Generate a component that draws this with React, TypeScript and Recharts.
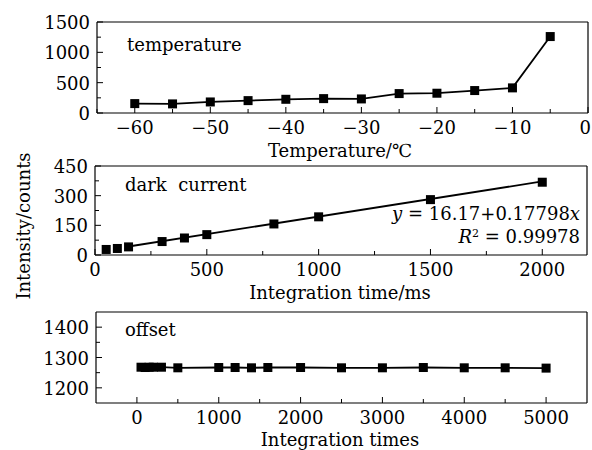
import { ComposedChart, Line, Scatter, XAxis, YAxis } from 'recharts';

// temperature panel
const tempX = [-60, -55, -50, -45, -40, -35, -30, -25, -20, -15, -10, -5];
const tempY = [155, 150, 182, 204, 226, 237, 232, 320, 326, 370, 414, 1260];
const tempXMajor = [-60, -50, -40, -30, -20, -10, 0];
const tempXTicks = [-65, -60, -55, -50, -45, -40, -35, -30, -25, -20, -15, -10, -5, 0];
const tempYMajor = [0, 500, 1000, 1500];
const tempYTicks = [0, 250, 500, 750, 1000, 1250, 1500];

// dark current panel
const darkX = [50, 100, 150, 300, 400, 500, 800, 1000, 1500, 2000];
const darkY = [28, 33, 41, 68, 86, 103, 157, 193, 280, 368];
const fitX = [150, 2000];
const fitY = [43, 372];
const darkXMajor = [0, 500, 1000, 1500, 2000];
const darkXTicks = [0, 250, 500, 750, 1000, 1250, 1500, 1750, 2000];
const darkYMajor = [0, 150, 300, 450];
const darkYTicks = [0, 75, 150, 225, 300, 375, 450];

// offset panel
const offX = [50, 100, 150, 200, 300, 500, 1000, 1200, 1400, 1600, 2000, 2500, 3000, 3500, 4000, 4500, 5000];
const offY = [1268, 1267, 1268, 1268, 1268, 1266, 1267, 1267, 1266, 1267, 1267, 1266, 1266, 1267, 1266, 1266, 1265];
const offXMajor = [0, 1000, 2000, 3000, 4000, 5000];
const offXTicks = [0, 500, 1000, 1500, 2000, 2500, 3000, 3500, 4000, 4500, 5000];
const offYMajor = [1200, 1300, 1400];
const offYTicks = [1200, 1250, 1300, 1350, 1400];

const FONT = '"DejaVu Serif", "Liberation Serif", serif';
const FS = 18;

const rows = (xs: number[], ys: number[]) => xs.map((x, i) => ({ x, y: ys[i] }));

const fmt = (v: number) => (v < 0 ? '\u2212' + Math.abs(v) : String(v));

const Square = (p: any) => {
  if (p.cx == null || p.cy == null) return <g key={p.key} />;
  return <rect key={p.key} x={p.cx - 4.5} y={p.cy - 4.5} width={9} height={9} fill="#000" />;
};

const bottomTick = (majors: number[]) => (p: any) => {
  const v = p.payload.value;
  const major = majors.includes(v);
  // keep the last label inside the picture
  const atEdge = p.x > 584;
  return (
    <g>
      <line x1={p.x} x2={p.x} y1={p.y} y2={p.y - (major ? 6 : 4)} stroke="#000" strokeWidth={1} />
      {major && (
        <text
          x={atEdge ? 591 : p.x}
          y={p.y + 21}
          textAnchor={atEdge ? 'end' : 'middle'}
          fontFamily={FONT}
          fontSize={FS}
          fill="#000"
        >
          {fmt(v)}
        </text>
      )}
    </g>
  );
};

const topTick = (majors: number[]) => (p: any) => {
  const major = majors.includes(p.payload.value);
  return <line x1={p.x} x2={p.x} y1={p.y} y2={p.y + (major ? 6 : 4)} stroke="#000" strokeWidth={1} />;
};

const leftTick = (majors: number[]) => (p: any) => {
  const v = p.payload.value;
  const major = majors.includes(v);
  return (
    <g>
      <line x1={p.x} x2={p.x + (major ? 6 : 4)} y1={p.y} y2={p.y} stroke="#000" strokeWidth={1} />
      {major && (
        <text x={p.x - 7} y={p.y + 7} textAnchor="end" fontFamily={FONT} fontSize={FS} fill="#000">
          {v}
        </text>
      )}
    </g>
  );
};

type PanelProps = {
  top: number;
  height: number;
  plot: { left: number; right: number; top: number; bottom: number };
  xDomain: [number, number];
  yDomain: [number, number];
  xTicks: number[];
  xMajor: number[];
  yTicks: number[];
  yMajor: number[];
  topTicks?: boolean;
  children: any;
};

function Panel({ top, height, plot, xDomain, yDomain, xTicks, xMajor, yTicks, yMajor, topTicks, children }: PanelProps) {
  const margin = {
    top: plot.top - top - 1,
    bottom: top + height - plot.bottom - 30,
    left: plot.left - 60,
    right: 592 - plot.right - 1,
  };
  return (
    <div style={{ position: 'absolute', left: 0, top }}>
      <ComposedChart width={592} height={height} margin={margin}>
        <XAxis
          type="number"
          dataKey="x"
          domain={xDomain}
          ticks={xTicks}
          interval={0}
          allowDataOverflow
          height={30}
          tickSize={0}
          tickMargin={0}
          axisLine={{ stroke: '#000', strokeWidth: 1.2 }}
          tick={bottomTick(xMajor)}
        />
        <XAxis
          xAxisId="top"
          orientation="top"
          type="number"
          domain={xDomain}
          ticks={topTicks ? xTicks : []}
          interval={0}
          allowDataOverflow
          height={1}
          tickSize={0}
          tickMargin={0}
          axisLine={{ stroke: '#000', strokeWidth: 1.2 }}
          tick={topTicks ? topTick(xMajor) : false}
        />
        <YAxis
          type="number"
          domain={yDomain}
          ticks={yTicks}
          interval={0}
          allowDataOverflow
          width={60}
          tickSize={0}
          tickMargin={0}
          axisLine={{ stroke: '#000', strokeWidth: 1.2 }}
          tick={leftTick(yMajor)}
        />
        <YAxis
          yAxisId="right"
          orientation="right"
          type="number"
          domain={yDomain}
          ticks={[]}
          width={1}
          tickSize={0}
          axisLine={{ stroke: '#000', strokeWidth: 1.2 }}
          tick={false}
        />
        {children}
      </ComposedChart>
    </div>
  );
}

const txt = { fontFamily: FONT, fontSize: FS, fill: '#000' } as const;

export default function App() {
  return (
    <div style={{ position: 'absolute', left: 0, top: 0, width: 592, height: 450, background: '#fff' }}>
      <Panel
        top={0}
        height={145}
        plot={{ left: 97, right: 588, top: 22, bottom: 113 }}
        xDomain={[-65, 0]}
        yDomain={[0, 1500]}
        xTicks={tempXTicks}
        xMajor={tempXMajor}
        yTicks={tempYTicks}
        yMajor={tempYMajor}
        topTicks
      >
        <Line
          data={rows(tempX, tempY)}
          dataKey="y"
          stroke="#000"
          strokeWidth={1.8}
          dot={Square}
          activeDot={false}
          isAnimationActive={false}
        />
      </Panel>
      <Panel
        top={145}
        height={150}
        plot={{ left: 95, right: 587, top: 166, bottom: 255 }}
        xDomain={[0, 2200]}
        yDomain={[0, 450]}
        xTicks={darkXTicks}
        xMajor={darkXMajor}
        yTicks={darkYTicks}
        yMajor={darkYMajor}
      >
        <Line
          data={rows(fitX, fitY)}
          dataKey="y"
          stroke="#000"
          strokeWidth={1.8}
          dot={false}
          activeDot={false}
          isAnimationActive={false}
        />
        <Scatter data={rows(darkX, darkY)} dataKey="y" fill="#000" shape={Square} isAnimationActive={false} />
      </Panel>
      <Panel
        top={295}
        height={155}
        plot={{ left: 96, right: 587, top: 312, bottom: 403 }}
        xDomain={[-500, 5500]}
        yDomain={[1150, 1450]}
        xTicks={offXTicks}
        xMajor={offXMajor}
        yTicks={offYTicks}
        yMajor={offYMajor}
      >
        <Line
          data={rows(offX, offY)}
          dataKey="y"
          stroke="#000"
          strokeWidth={1.8}
          dot={Square}
          activeDot={false}
          isAnimationActive={false}
        />
      </Panel>
      <svg width={592} height={450} style={{ position: 'absolute', left: 0, top: 0, pointerEvents: 'none' }}>
        <text x={127} y={51} {...txt}>temperature</text>
        <text x={125} y={191} {...txt} style={{ whiteSpace: 'pre' }}>dark  current</text>
        <text x={125} y={336} {...txt}>offset</text>
        <text x={580} y={220} textAnchor="end" {...txt}>
          <tspan fontStyle="italic">y</tspan> = 16.17+0.17798<tspan fontStyle="italic">x</tspan>
        </text>
        <text x={580} y={243} textAnchor="end" {...txt}>
          <tspan fontStyle="italic">R</tspan>
          <tspan fontSize={11} dy={-6}>2</tspan>
          <tspan dy={6}> = 0.99978</tspan>
        </text>
        <text x={340} y={157} textAnchor="middle" {...txt}>Temperature/℃</text>
        <text x={340} y={299} textAnchor="middle" {...txt}>Integration time/ms</text>
        <text x={340} y={446} textAnchor="middle" {...txt}>Integration times</text>
        <text x={0} y={0} textAnchor="middle" transform="translate(30 226) rotate(-90)" {...txt}>
          Intensity/counts
        </text>
      </svg>
    </div>
  );
}
